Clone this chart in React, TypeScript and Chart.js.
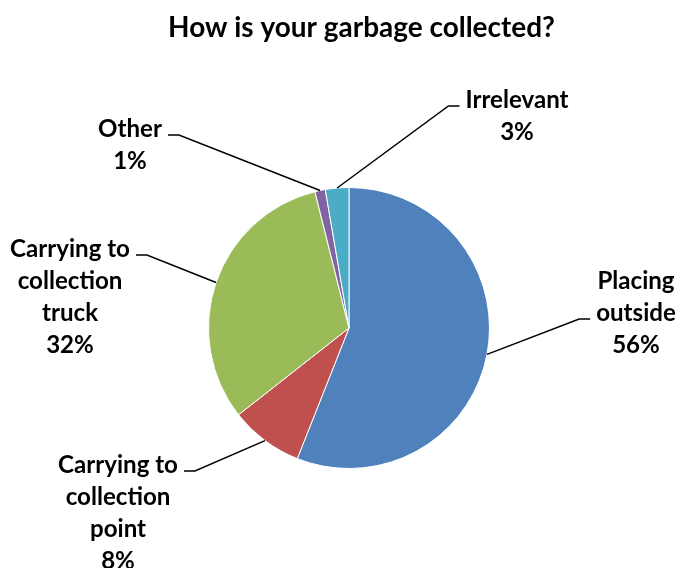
import React, { useEffect, useRef } from "react";
import { Chart, registerables } from "chart.js";

Chart.register(...registerables);

const chartTitle = "How is your garbage collected?";
const categories = [
  "Placing outside",
  "Carrying to collection point",
  "Carrying to collection truck",
  "Other",
  "Irrelevant",
];
const labelLines = [
  ["Placing", "outside"],
  ["Carrying to", "collection", "point"],
  ["Carrying to", "collection", "truck"],
  ["Other"],
  ["Irrelevant"],
];
const values = [56, 8.4, 31.7, 1.2, 2.7];
const colors = ["#4F81BD", "#C0504D", "#9BBB59", "#8064A2", "#4BACC6"];

// label placement relative to the pie centre (layout only)
const labelLayout = [
  { dx: 287, dy: -47, lead: 1 },
  { dx: -231, dy: 137, lead: 0 },
  { dx: -279, dy: -79, lead: 0 },
  { dx: -219, dy: -199, lead: 0 },
  { dx: 168, dy: -228, lead: 0 },
];

const FONT_FAMILY = "Lato, 'Open Sans', sans-serif";

function fitSize(ctx: CanvasRenderingContext2D, text: string, target: number) {
  ctx.font = `bold 100px ${FONT_FAMILY}`;
  const w = ctx.measureText(text).width;
  return (100 * target) / w;
}

const labelPlugin = {
  id: "excelLabels",
  afterDraw(chart: any) {
    const ctx: CanvasRenderingContext2D = chart.ctx;
    const total = values.reduce((a, b) => a + b, 0);
    const meta = chart.getDatasetMeta(0);
    ctx.save();
    // title
    const tfs = fitSize(ctx, chartTitle, 387);
    ctx.font = `bold ${tfs}px ${FONT_FAMILY}`;
    ctx.fillStyle = "#000";
    ctx.textAlign = "center";
    ctx.textBaseline = "middle";
    ctx.fillText(chartTitle, 361.5, 28);

    const fs = fitSize(ctx, "Carrying to", 120);
    ctx.font = `bold ${fs}px ${FONT_FAMILY}`;
    const lineH = 32;
    meta.data.forEach((arc: any, i: number) => {
      const p = arc.getProps(["x", "y", "startAngle", "endAngle", "outerRadius"], true);
      const mid = (p.startAngle + p.endAngle) / 2;
      const ax = p.x + Math.cos(mid) * p.outerRadius;
      const ay = p.y + Math.sin(mid) * p.outerRadius;
      const lines = [...labelLines[i], Math.round((values[i] / total) * 100) + "%"];
      const L = labelLayout[i];
      const cx = p.x + L.dx;
      const cy0 = p.y + L.dy;
      ctx.fillStyle = "#000";
      lines.forEach((t, k) => ctx.fillText(t, cx, cy0 + k * lineH));
      const lw = ctx.measureText(lines[L.lead]).width;
      const ly = cy0 + L.lead * lineH + 6;
      const onRight = ax > cx;
      const x0 = onRight ? cx + lw / 2 + 6 : cx - lw / 2 - 6;
      const x1 = onRight ? x0 + 11 : x0 - 11;
      ctx.strokeStyle = "#000";
      ctx.lineWidth = 1.5;
      ctx.beginPath();
      ctx.moveTo(x0, ly);
      ctx.lineTo(x1, ly);
      ctx.lineTo(ax, ay);
      ctx.stroke();
    });
    ctx.restore();
  },
};

export default function App() {
  const ref = useRef<HTMLCanvasElement | null>(null);
  useEffect(() => {
    if (!ref.current) return;
    const chart = new Chart(ref.current, {
      type: "pie",
      data: {
        labels: categories,
        datasets: [
          {
            data: values,
            backgroundColor: colors,
            borderColor: "#ffffff",
            borderWidth: 1,
          },
        ],
      },
      options: {
        responsive: false,
        animation: false,
        layout: { padding: { left: 208, right: 191, top: 187, bottom: 99 } },
        plugins: {
          legend: { display: false },
          tooltip: { enabled: false },
          title: { display: false },
        },
      },
      plugins: [labelPlugin],
    });
    return () => chart.destroy();
  }, []);
  return (
    <div style={{ position: "fixed", left: 0, top: 0, width: 681, height: 568, background: "#fff" }}>
      <canvas ref={ref} width={681} height={568} />
    </div>
  );
}
